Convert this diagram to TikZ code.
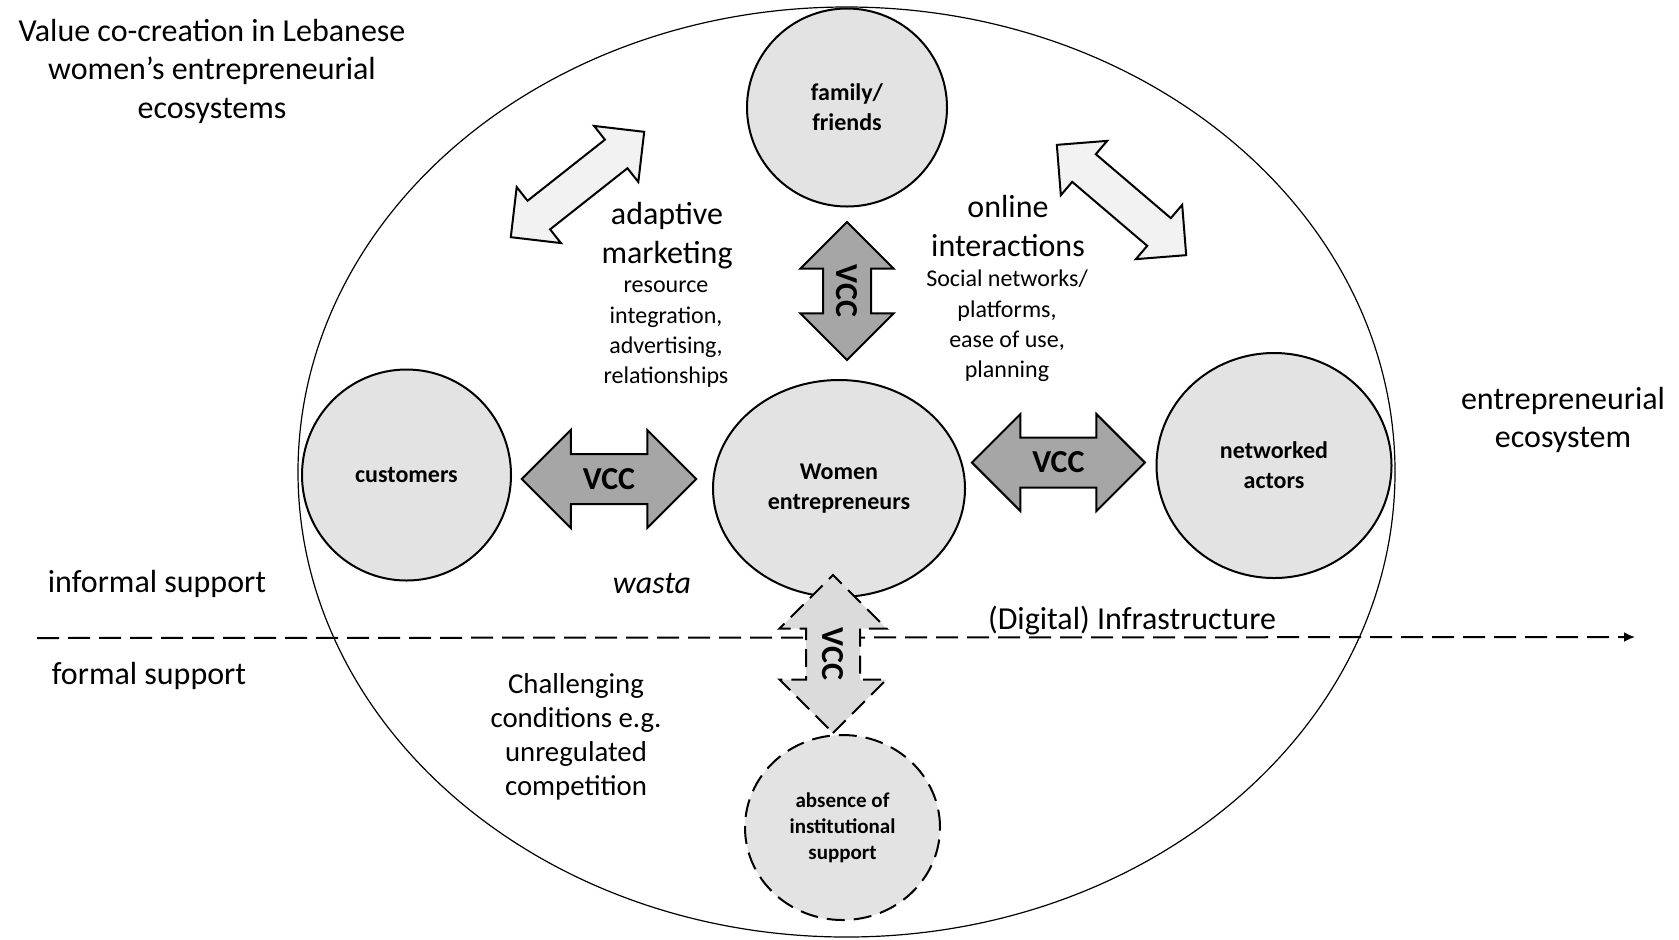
\documentclass[tikz,border=0pt]{standalone}
\usepackage{fontspec}
\setmainfont{Carlito}
\usetikzlibrary{shapes.geometric,shapes.arrows,arrows.meta}
\definecolor{actorgray}{gray}{0.89}
\definecolor{vccgray}{gray}{0.65}
\definecolor{linkgray}{gray}{0.95}
\definecolor{weakgray}{gray}{0.86}

\begin{document}
\begin{tikzpicture}[x=0.5pt, y=-0.5pt,
  actor/.style={draw, ellipse, line width=1pt, fill=actorgray, inner sep=0pt, align=center, font=\fontsize{12}{15}\selectfont\bfseries},
  vcc/.style={draw, double arrow, double arrow head extend=12pt, line width=1pt, fill=vccgray, inner xsep=0pt, inner ysep=6.85pt, text height=10.3pt, text depth=0pt, font=\fontsize{16}{16}\selectfont\bfseries},
  link/.style={draw, double arrow, double arrow head extend=8.75pt, line width=1pt, fill=linkgray, inner xsep=0pt, inner ysep=8.6pt, minimum height=85pt},
  bigtxt/.style={align=center, font=\fontsize{16}{19.25}\selectfont},
  smalltxt/.style={align=center, font=\fontsize{12}{15.15}\selectfont}]
\useasboundingbox (0,0) rectangle (1679,939);
\node (eco) [draw, ellipse, line width=0.6pt, minimum width=548.5pt, minimum height=465pt] at (846.5,472) {};
\coordinate (lineL) at (37,638);
\coordinate (lineR) at (1635,637);
\draw[line width=1pt, dash pattern=on 11pt off 4.5pt, -{Latex[length=5.5pt,width=5pt]}] (lineL) -- (lineR);
\node (fam) [actor, minimum width=100pt, minimum height=99pt] at (847,107.5) {family/\\friends};
\node (cust) [actor, minimum width=104.5pt, minimum height=105.5pt] at (406.5,475) {customers};
\node (women) [actor, minimum width=126pt, minimum height=108.5pt] at (839,488.5) {Women\\entrepreneurs};
\node (net) [actor, minimum width=117.5pt, minimum height=112.5pt] at (1274,465.5) {networked\\actors};
\node (absent) [actor, dash pattern=on 9pt off 4.5pt, minimum width=97.5pt, minimum height=92.5pt, font=\fontsize{10.5}{12.9}\selectfont\bfseries] at (842.5,827.5) {absence of\\institutional\\support};
\node (vccL) [vcc, minimum height=87.25pt] at (609,479) {VCC};
\node (vccR) [vcc, minimum height=86.5pt, double arrow head extend=11.75pt] at (1058.4,462.5) {VCC};
\node (vccT) [vcc, rotate=-90, minimum height=69pt, inner ysep=6.35pt, inner xsep=-2pt, double arrow head extend=11.3pt] at (847,291) {VCC};
\node (vccB) [vcc, rotate=-90, minimum height=79pt, inner ysep=7.85pt, double arrow head extend=13.25pt, fill=weakgray, dash pattern=on 9pt off 4.5pt] at (833,654) {VCC};
\node (linkL) [link, rotate=38.3] at (577.5,184.5) {};
\node (linkR) [link, rotate=-40.45] at (1121.5,200) {};
\node (title) [bigtxt] at (212,71) {Value co-creation in Lebanese\\women’s entrepreneurial\\ecosystems};
\node (adapt) [bigtxt] at (667,235.5) {adaptive\\marketing};
\node (adaptinfo) [smalltxt] at (666,334.5) {resource\\integration,\\advertising,\\relationships};
\node (online) [bigtxt] at (1008,226) {online\\interactions};
\node (onlineinfo) [smalltxt] at (1007,326) {Social networks/\\platforms,\\ease of use,\\planning};
\node (ecolabel) [bigtxt] at (1563,420) {entrepreneurial\\ecosystem};
\node (informal) [bigtxt] at (157,584) {informal support};
\node (formal) [bigtxt] at (149,676) {formal support};
\node (infra) [bigtxt] at (1132,621) {(Digital) Infrastructure};
\node (wasta) [bigtxt, font=\fontsize{16}{19.25}\selectfont\itshape] at (652,583) {wasta};
\node (challenge) [align=center, font=\fontsize{14.4}{17}\selectfont] at (576,737) {Challenging\\conditions e.g.\\unregulated\\competition};
\end{tikzpicture}
\end{document}
